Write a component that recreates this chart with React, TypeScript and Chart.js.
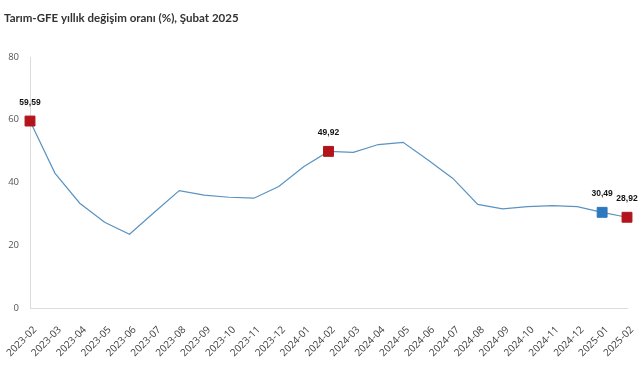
import React, { useEffect, useRef } from "react";
import { Chart, registerables } from "chart.js";

Chart.register(...registerables);

const categories = [
  "2023-02", "2023-03", "2023-04", "2023-05", "2023-06", "2023-07", "2023-08",
  "2023-09", "2023-10", "2023-11", "2023-12", "2024-01", "2024-02", "2024-03",
  "2024-04", "2024-05", "2024-06", "2024-07", "2024-08", "2024-09", "2024-10",
  "2024-11", "2024-12", "2025-01", "2025-02",
];
const values = [
  59.59, 43.0, 33.4, 27.3, 23.5, 30.5, 37.4, 36.0, 35.3, 35.0, 38.7, 45.0,
  49.92, 49.6, 52.1, 52.8, 47.2, 41.3, 33.0, 31.6, 32.3, 32.6, 32.3, 30.49, 28.92,
];
const highlightRed = ["2023-02", "2024-02", "2025-02"];
const highlightBlue = ["2025-01"];
const labelledPoints = ["2023-02", "2024-02", "2025-01", "2025-02"];
const yTicks = [0, 20, 40, 60, 80];
const title = "Tarım-GFE yıllık değişim oranı (%), Şubat 2025";

const RED = "#B3141B";
const BLUE = "#2E78BE";
const LINE = "#5A93C2";

const titlePlugin = {
  id: "customTitle",
  afterDraw(chart: any) {
    const ctx = chart.ctx;
    ctx.save();
    ctx.font = "bold 12px Lato, 'Open Sans', sans-serif";
    const w = ctx.measureText(title).width;
    const size = Math.min(13, (12 * 235) / w);
    ctx.font = `bold ${size}px Lato, 'Open Sans', sans-serif`;
    ctx.fillStyle = "#333";
    ctx.textAlign = "left";
    ctx.textBaseline = "alphabetic";
    ctx.fillText(title, 4, 22);
    ctx.restore();
  },
};

const valueLabels = {
  id: "valueLabels",
  afterDatasetsDraw(chart: any) {
    const ctx = chart.ctx;
    const meta = chart.getDatasetMeta(0);
    ctx.save();
    ctx.font = "bold 8.5px 'Liberation Sans', Arial, sans-serif";
    ctx.fillStyle = "#111";
    ctx.textAlign = "center";
    ctx.textBaseline = "alphabetic";
    categories.forEach((c, i) => {
      if (!labelledPoints.includes(c)) return;
      const p = meta.data[i];
      const txt = values[i].toFixed(2).replace(".", ",");
      ctx.fillText(txt, p.x, p.y - 16);
    });
    ctx.restore();
  },
};

export default function App() {
  const ref = useRef<HTMLCanvasElement>(null);
  useEffect(() => {
    document.body.style.margin = "0";
    const canvas = ref.current!;
    const chart = new Chart(canvas, {
      type: "line",
      data: {
        labels: categories,
        datasets: [
          {
            data: values,
            borderColor: LINE,
            borderWidth: 1.2,
            tension: 0,
            pointStyle: "rect",
            pointRadius: categories.map((c) =>
              highlightRed.includes(c) || highlightBlue.includes(c) ? 7 : 0
            ),
            pointHoverRadius: 0,
            pointBackgroundColor: categories.map((c) =>
              highlightBlue.includes(c) ? BLUE : RED
            ),
            pointBorderColor: categories.map((c) =>
              highlightBlue.includes(c) ? BLUE : RED
            ),
            pointBorderWidth: 1,
          },
        ],
      },
      options: {
        animation: false,
        responsive: false,
        layout: { padding: { left: 0, right: 14, top: 57, bottom: 0 } },
        plugins: {
          legend: { display: false },
          tooltip: { enabled: false },
          title: { display: false },
        },
        scales: {
          x: {
            grid: { display: false },
            border: { display: true, color: "#dcdcdc" },
            offset: false,
            ticks: {
              minRotation: 45,
              maxRotation: 45,
              autoSkip: false,
              color: "#404040",
              padding: 8,
              labelOffset: 5,
              font: { family: "'Open Sans', sans-serif", size: 10 },
            },
            afterFit(s: any) {
              s.height = 72;
              s.paddingLeft = 0;
              s.paddingRight = 0;
            },
          },
          y: {
            min: 0,
            max: 80,
            grid: { display: false },
            border: { display: true, color: "#dcdcdc" },
            afterBuildTicks(s: any) {
              s.ticks = yTicks.map((v) => ({ value: v }));
            },
            ticks: {
              color: "#555",
              padding: 3,
              font: { family: "'Open Sans', sans-serif", size: 9.5 },
            },
            afterFit(s: any) {
              s.width = 30;
            },
          },
        },
      },
      plugins: [valueLabels, titlePlugin],
    });
    return () => chart.destroy();
  }, []);
  return <canvas ref={ref} width={641} height={380} style={{ display: "block" }} />;
}
